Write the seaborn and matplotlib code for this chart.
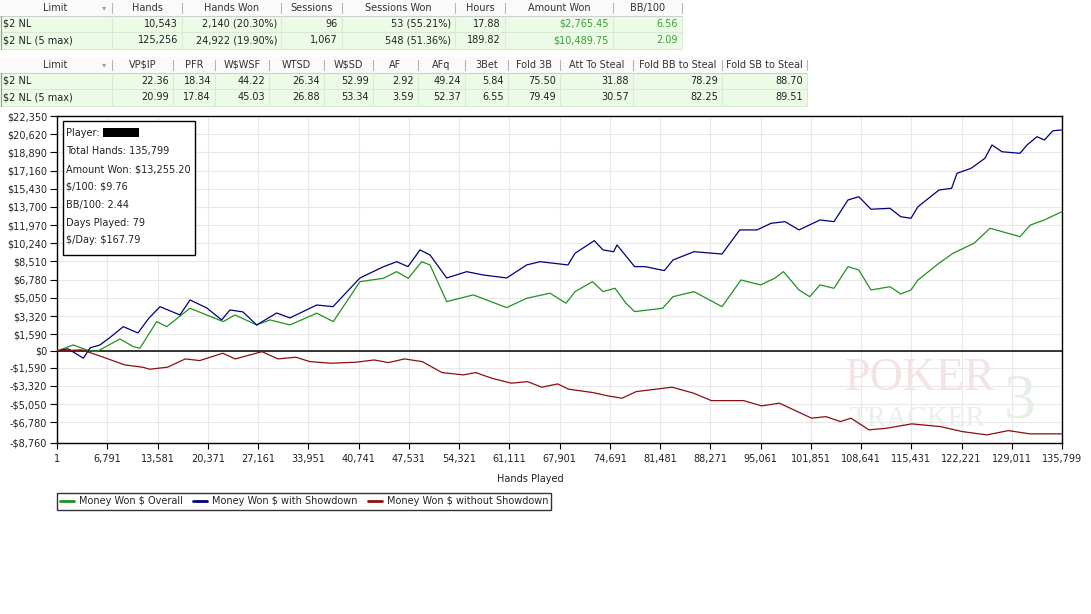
import numpy as np
import pandas as pd
import matplotlib
matplotlib.use("Agg")
import matplotlib.pyplot as plt
from matplotlib.patches import Rectangle
import seaborn as sns

# ---- stats tables ----
t1_headers = ["Limit", "Hands", "Hands Won", "Sessions", "Sessions Won", "Hours", "Amount Won", "BB/100"]
t1_rows = [
    ["$2 NL", "10,543", "2,140 (20.30%)", "96", "53 (55.21%)", "17.88", "$2,765.45", "6.56"],
    ["$2 NL (5 max)", "125,256", "24,922 (19.90%)", "1,067", "548 (51.36%)", "189.82", "$10,489.75", "2.09"],
]
t2_headers = ["Limit", "VP$IP", "PFR", "W$WSF", "WTSD", "W$SD", "AF", "AFq", "3Bet", "Fold 3B",
              "Att To Steal", "Fold BB to Steal", "Fold SB to Steal"]
t2_rows = [
    ["$2 NL", "22.36", "18.34", "44.22", "26.34", "52.99", "2.92", "49.24", "5.84", "75.50", "31.88", "78.29", "88.70"],
    ["$2 NL (5 max)", "20.99", "17.84", "45.03", "26.88", "53.34", "3.59", "52.37", "6.55", "79.49", "30.57", "82.25", "89.51"],
]

info_lines = ["Player: ", "Total Hands: 135,799", "Amount Won: $13,255.20", "$/100: $9.76",
              "BB/100: 2.44", "Days Played: 79", "$/Day: $167.79"]

# ---- graph data (hands played, $ won) ----
hands_all = [1, 2200, 4010, 5360, 8510, 10310, 11210, 13470, 14820, 17970, 20230, 22470, 24050, 26980,
             28780, 31480, 35090, 37330, 40940, 44090, 45900, 47470, 49280, 50400, 52660, 56250, 60760,
             63470, 66610, 68780, 70000, 72360, 73780, 75400, 76880, 78050, 81830, 83230, 86070, 89860,
             92420, 95080, 96970, 98160, 100260, 101700, 103100, 104990, 106880, 108340, 109990, 112560,
             114010, 115390, 116340, 119180, 121070, 123910, 126070, 127690, 130120, 131530, 133420, 135799]
won_all = [0, 570, 100, -70, 1140, 410, 260, 2790, 2310, 4060, 3420, 2790, 3420, 2470,
           2950, 2470, 3590, 2790, 6590, 6910, 7540, 6910, 8490, 8180, 4690, 5330, 4120,
           5010, 5490, 4540, 5640, 6590, 5640, 5960, 4540, 3740, 4060, 5160, 5640, 4210,
           6750, 6280, 6910, 7540, 5800, 5160, 6280, 5960, 8020, 7700, 5800, 6110,
           5420, 5800, 6750, 8340, 9290, 10240, 11670, 11350, 10870, 11980, 12460, 13255]

hands_sd = [1, 1500, 3550, 4500, 5810, 7200, 8960, 10940, 12400, 13920, 16620, 17970, 20230, 22250,
            23380, 25130, 26980, 29690, 31480, 35090, 37290, 40940, 44050, 45900, 47430, 49050, 50400,
            52660, 55360, 57560, 60760, 63470, 65260, 69050, 70000, 72600, 73780, 75210, 75670, 78050,
            79450, 82070, 83230, 86070, 89860, 92250, 94580, 96480, 98370, 100260, 103100, 104990,
            106880, 108340, 109990, 112560, 114010, 115390, 116340, 119180, 120880, 121610, 123500,
            125390, 126340, 127690, 130120, 131070, 132420, 133420, 134580, 135799]
won_sd = [0, 200, -690, 300, 570, 1300, 2310, 1710, 3100, 4210, 3420, 4850, 4090, 2950,
          3900, 3710, 2470, 3610, 3140, 4370, 4210, 6940, 7990, 8490, 8020, 9610, 9130,
          6940, 7540, 7230, 6940, 8180, 8490, 8180, 9290, 10490, 9610, 9440, 10080, 8020,
          8020, 7640, 8650, 9440, 9220, 11510, 11510, 12140, 12300, 11510, 12460, 12300,
          14360, 14670, 13480, 13570, 12770, 12620, 13720, 15310, 15470, 16900, 17370,
          18330, 19590, 18950, 18800, 19590, 20380, 20070, 20950, 21020]

hands_nsd = [1, 3380, 6270, 9150, 11570, 12530, 14930, 17340, 19270, 22400, 24080, 27700, 29860,
             32270, 34190, 37090, 40460, 42860, 44790, 46950, 49360, 52020, 54900, 56590, 58750,
             61400, 63570, 65490, 67670, 69120, 72490, 74430, 76340, 78280, 83100, 86020, 88440,
             92790, 95210, 97610, 100040, 101980, 103910, 105840, 107290, 109710, 112130, 115500,
             119370, 122290, 125660, 128550, 131460, 135799]
won_nsd = [0, 100, -600, -1330, -1550, -1740, -1550, -760, -920, -220, -760, -70, -760,
           -600, -1020, -1170, -1070, -860, -1110, -760, -1020, -2060, -2280, -2060, -2600,
           -3070, -2920, -3450, -3140, -3640, -3970, -4280, -4500, -3870, -3450, -4020, -4730,
           -4730, -5230, -4970, -5770, -6400, -6250, -6720, -6400, -7510, -7350, -6940,
           -7200, -7670, -7990, -7580, -7890, -7890]

x_ticks = [1, 6791, 13581, 20371, 27161, 33951, 40741, 47531, 54321, 61111, 67901, 74691,
           81481, 88271, 95061, 101851, 108641, 115431, 122221, 129011, 135799]
y_ticks = [22350, 20620, 18890, 17160, 15430, 13700, 11970, 10240, 8510, 6780, 5050, 3320,
           1590, 0, -1590, -3320, -5050, -6780, -8760]

series = [
    ("Money Won $ Overall", hands_all, won_all, "#219121"),
    ("Money Won $ with Showdown", hands_sd, won_sd, "#000080"),
    ("Money Won $ without Showdown", hands_nsd, won_nsd, "#8b0f0f"),
]

sns.set_theme(style="white")
plt.rcParams['font.family'] = ['DejaVu Sans']
plt.rcParams['text.parse_math'] = False  # lots of "$" in the labels

W, H = 1091, 614
fig = plt.figure(figsize=(W / 100, H / 100), dpi=100)
fig.patch.set_facecolor("white")
ax = fig.add_axes([57 / W, (H - 443) / H, 1005 / W, 327 / H])

# overlay in pixel coordinates for the tables / info box
px = fig.add_axes([0, 0, 1, 1])
px.set_xlim(0, W)
px.set_ylim(H, 0)
px.set_axis_off()
px.patch.set_alpha(0)
px.set_zorder(5)

for name, hx, wy, col in series:
    df = pd.DataFrame({"hands": hx, "won": wy})
    sns.lineplot(data=df, x="hands", y="won", ax=ax, color=col, lw=0.9,
                 label=name, estimator=None, sort=False, zorder=3)

ax.axhline(0, color="black", lw=1.1, zorder=2.5)
ax.set_xlim(1, 135799)
ax.set_ylim(-8760, 22350)
ax.set_xticks(x_ticks)
ax.set_xticklabels([f"{t:,}" for t in x_ticks])
ax.set_yticks(y_ticks)
ax.set_yticklabels([("-$" if v < 0 else "$") + f"{abs(v):,}" for v in y_ticks])
ax.tick_params(axis="x", bottom=True, length=4, width=0.8, pad=4, labelsize=7,
               color="black", labelcolor="#222222")
ax.tick_params(axis="y", left=True, length=5, width=0.8, pad=2, labelsize=7,
               color="black", labelcolor="#222222")
ax.grid(True, color="#e8e8e8", lw=0.8)
ax.set_axisbelow(True)
for s in ax.spines.values():
    s.set_color("black")
    s.set_linewidth(1)
ax.set_xlabel("")
ax.set_ylabel("")

leg = ax.legend(loc="upper left", bbox_to_anchor=(57 / W, 1 - 493 / H), bbox_transform=fig.transFigure,
                ncol=3, frameon=True, fancybox=False, edgecolor="black", fontsize=7,
                handlelength=1.4, handletextpad=0.5, columnspacing=1.1, borderpad=0.35,
                borderaxespad=0)
leg.get_frame().set_linewidth(1)
for ln in leg.get_lines():
    ln.set_linewidth(2)

fig.text(530 / W, 1 - 479 / H, "Hands Played", ha="center", va="center", fontsize=7, color="#222222")

# watermark
ax.text(845, 390, "POKER", transform=px.transData, fontsize=33, family="Liberation Serif",
        color="#f4e3e3", zorder=1)
ax.text(849, 426, "TRACKER", transform=px.transData, fontsize=21, family="Liberation Serif",
        color="#e9efe9", zorder=1)
ax.text(1004, 418, "3", transform=px.transData, fontsize=46, family="Liberation Serif",
        color="#e6eee6", zorder=1)

# info box
px.add_patch(Rectangle((62.5, 120.5), 132.5, 134.5, fc="white", ec="black", lw=1))
for i, line in enumerate(info_lines):
    px.text(66.5, 133.5 + i * 17.8, line, ha="left", va="center", fontsize=7, color="#222222")
px.add_patch(Rectangle((103, 128), 36, 9, fc="black", ec="none"))


def draw_table(top, edges, headers, rows, green_cols):
    hh, rh = 15.5, 16.5
    right = edges[-1]
    px.add_patch(Rectangle((0, top), right, hh, fc="#fafafa", ec="none"))
    px.plot([0, right], [top + hh, top + hh], color="#cfcfcf", lw=0.8)
    for i, name in enumerate(headers):
        x0, x1 = edges[i], edges[i + 1]
        px.plot([x1 - 0.5, x1 - 0.5], [top + 3, top + hh - 3], color="#b5b5b5", lw=0.8)
        cx = 55 if i == 0 else (x0 + x1) / 2
        px.text(cx, top + hh / 2, name, ha="center", va="center", fontsize=7, color="#333333")
    px.text(104, top + hh / 2, "\u25be", ha="center", va="center", fontsize=6, color="#a0a0a0")
    for r, row in enumerate(rows):
        y0 = top + hh + r * rh
        px.add_patch(Rectangle((0, y0), right, rh, fc="#ebfbe6", ec="none"))
        px.plot([0, right], [y0 + rh, y0 + rh], color="#d8ead4", lw=0.8)
        for i, val in enumerate(row):
            x0, x1 = edges[i], edges[i + 1]
            px.plot([x1 - 0.5, x1 - 0.5], [y0, y0 + rh], color="#d8ead4", lw=0.8)
            if i == 0:
                px.text(3, y0 + rh / 2, val, ha="left", va="center", fontsize=7, color="#222222")
            else:
                c = "#3b9e3b" if i in green_cols else "#222222"
                px.text(x1 - 4, y0 + rh / 2, val, ha="right", va="center", fontsize=7, color=c)
    px.plot([0.5, 0.5], [top + hh, top + hh + len(rows) * rh], color="#9a9a9a", lw=0.8)


draw_table(0, [0, 112, 182, 281, 342, 455, 505, 613, 682], t1_headers, t1_rows, {6, 7})
draw_table(57, [0, 112, 173, 215, 269, 324, 373, 418, 465, 508, 560, 633, 722, 807], t2_headers, t2_rows, set())

fig.savefig("out.png", dpi=100, facecolor="white")
